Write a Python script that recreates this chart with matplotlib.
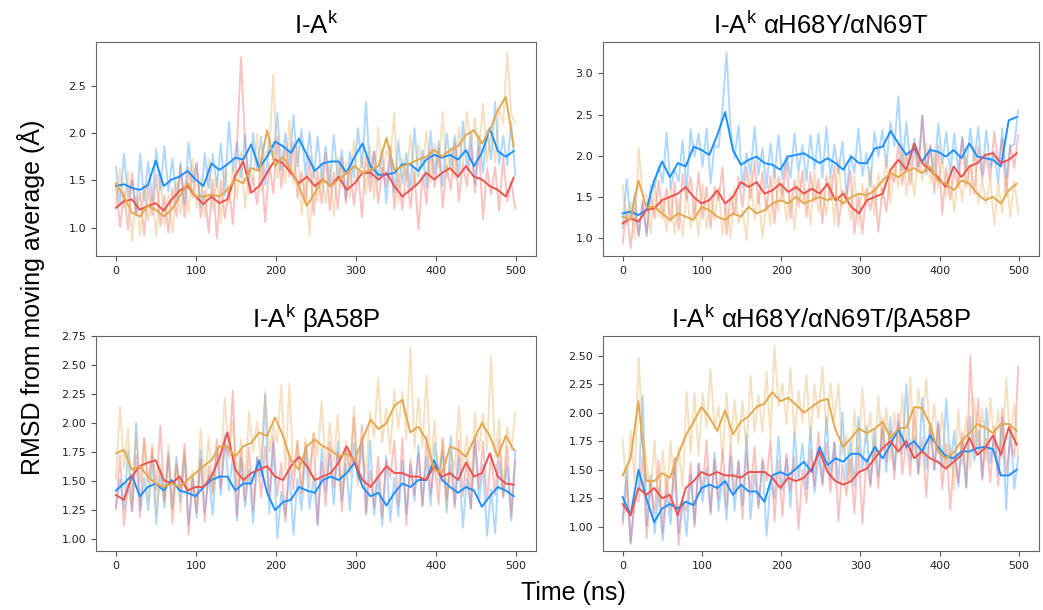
import numpy as np
import matplotlib
matplotlib.use("Agg")
import matplotlib.pyplot as plt
from matplotlib.ticker import MultipleLocator

# ====================================================
# data (RMSD in Angstrom)
# ====================================================
t_raw = np.linspace(0, 499, 100)   # raw frames, every ~5 ns
t_avg = np.linspace(0, 497, 51)    # smoothed curve, every ~10 ns

titles = [r"I-A$^{\mathrm{k}}$", r"I-A$^{\mathrm{k}}$ αH68Y/αN69T",
          r"I-A$^{\mathrm{k}}$ βA58P", r"I-A$^{\mathrm{k}}$ αH68Y/αN69T/βA58P"]

# ---- panel 1 : I-Ak
p1_blue_raw = [1.64,1.23,1.78,1.32,1.50,1.13,1.78,1.28,1.70,1.28,1.83,1.40,1.86,1.38,1.73,1.28,1.69,1.25,1.90,1.48,
               1.69,1.22,1.79,1.42,1.78,1.43,1.89,1.34,2.12,1.59,1.90,1.53,1.98,1.45,2.00,1.61,1.96,1.45,1.95,1.73,
               2.21,1.61,2.00,1.65,2.19,1.65,2.04,1.56,2.01,1.53,1.96,1.52,1.86,1.43,1.98,1.50,1.82,1.30,1.80,1.53,
               2.05,1.64,2.33,1.53,1.81,1.49,1.82,1.26,1.74,1.37,1.92,1.47,1.79,1.39,2.05,1.54,1.82,1.42,2.02,1.57,
               1.91,1.44,2.00,1.64,1.97,1.53,2.12,1.61,2.00,1.46,1.97,1.58,2.03,1.72,2.33,1.67,1.97,1.66,2.11,1.56]
p1_red_raw = [1.45,1.01,1.38,0.98,1.58,1.16,1.37,0.92,1.45,1.13,1.56,1.02,1.34,0.95,1.42,1.12,1.65,1.11,1.64,1.32,
              1.67,1.11,1.39,0.95,1.51,0.89,1.50,1.10,1.42,1.04,1.85,2.80,1.90,1.36,1.53,1.25,1.72,1.06,1.68,1.36,
              1.96,1.42,1.86,1.54,1.90,1.32,1.59,1.27,1.76,1.14,1.60,1.26,1.79,1.19,1.58,1.20,1.74,1.26,1.66,1.24,
              1.59,1.11,1.80,1.38,1.80,1.26,1.63,1.43,1.86,1.20,1.59,1.19,1.63,1.21,1.58,0.98,1.57,1.25,1.83,1.43,
              1.83,1.21,1.66,1.40,1.89,1.28,1.68,1.44,1.87,1.37,1.84,1.09,1.63,1.35,1.64,1.18,1.75,1.28,1.48,1.20]
p1_orange_raw = [1.23,1.63,1.21,1.59,0.86,1.34,0.92,1.46,1.07,1.35,0.91,1.57,1.02,1.34,0.95,1.49,1.15,1.47,1.15,1.73,
                 1.21,1.53,1.11,1.73,1.19,1.53,1.05,1.65,1.26,1.64,1.31,1.79,1.21,1.63,1.51,1.99,1.38,1.80,1.81,2.62,
                 1.53,1.73,1.47,2.13,1.46,1.86,1.14,1.56,0.92,1.65,1.27,1.59,1.26,1.66,1.12,1.74,1.43,1.69,1.32,1.93,
                 1.51,1.75,1.36,1.86,1.31,2.06,1.53,1.81,1.75,2.21,1.26,1.73,1.50,1.98,1.44,1.88,1.62,2.02,1.47,1.89,
                 1.64,2.22,1.53,1.85,1.52,2.06,1.70,2.22,1.86,2.16,1.77,2.31,1.69,2.01,1.69,2.25,2.10,2.85,2.20,2.10]
p1_blue_avg = [1.44,1.46,1.42,1.40,1.45,1.71,1.44,1.51,1.54,1.60,1.51,1.44,1.68,1.61,1.67,1.74,1.72,1.88,1.63,1.75,
               1.91,1.86,1.79,1.94,1.77,1.60,1.68,1.70,1.70,1.58,1.75,1.89,1.65,1.56,1.56,1.58,1.67,1.67,1.60,1.72,
               1.77,1.74,1.77,1.72,1.82,1.65,1.79,2.05,1.81,1.75,1.81]
p1_red_avg = [1.21,1.28,1.30,1.19,1.23,1.26,1.18,1.30,1.39,1.44,1.33,1.25,1.33,1.26,1.30,1.55,1.70,1.37,1.44,1.58,
              1.72,1.68,1.58,1.47,1.54,1.44,1.51,1.44,1.54,1.40,1.47,1.58,1.58,1.51,1.58,1.44,1.33,1.40,1.47,1.58,
              1.51,1.58,1.63,1.54,1.65,1.54,1.51,1.44,1.40,1.33,1.53]
p1_orange_avg = [1.47,1.33,1.16,1.12,1.23,1.19,1.12,1.19,1.33,1.47,1.33,1.33,1.35,1.33,1.40,1.51,1.47,1.63,1.60,2.03,
                 1.65,1.75,1.61,1.44,1.23,1.37,1.51,1.44,1.51,1.58,1.65,1.58,1.61,1.65,1.95,1.61,1.65,1.68,1.72,1.75,
                 1.82,1.75,1.82,1.86,1.98,2.03,1.89,2.03,2.24,2.38,1.86]

# ---- panel 2 : I-Ak aH68Y/aN69T
p2_blue_raw = [1.12,1.72,1.22,1.54,1.03,1.43,1.02,1.64,1.62,1.88,1.67,2.28,1.60,1.84,1.69,2.19,1.57,2.32,1.99,2.27,
               1.87,2.33,1.66,2.13,2.10,2.58,3.25,2.30,1.97,2.37,1.61,2.03,1.77,2.35,1.77,2.09,1.61,2.15,1.73,2.25,
               1.71,2.01,1.73,2.27,1.81,2.13,1.69,2.25,1.83,2.27,1.73,2.35,1.73,2.13,1.79,2.17,1.53,2.01,1.79,2.33,
               1.75,2.03,1.63,2.29,1.99,2.31,1.87,2.41,2.12,2.72,1.83,2.41,1.89,2.21,1.87,2.49,1.77,2.11,1.79,2.39,
               1.91,2.29,1.79,2.27,1.81,2.23,1.85,2.33,1.93,2.35,1.77,2.31,1.85,2.05,1.67,2.33,1.72,2.12,2.13,2.55]
p2_red_raw = [0.94,1.34,0.88,1.36,1.02,1.46,1.06,1.54,1.24,1.70,1.24,1.60,1.20,1.68,1.10,1.78,1.46,1.74,1.24,1.80,
              1.24,1.62,1.12,1.62,1.46,1.86,1.04,1.52,1.28,1.74,1.38,1.86,1.48,1.94,1.42,1.80,1.34,1.76,1.18,1.74,
              1.48,1.94,1.24,1.70,1.38,1.82,1.26,1.80,1.44,1.72,1.18,1.76,1.46,1.88,1.14,1.58,1.46,1.82,1.05,1.53,
              1.05,1.60,1.34,1.64,1.08,1.60,1.32,1.79,1.68,2.15,1.65,2.03,1.65,2.09,1.80,2.48,1.81,2.13,1.55,2.13,
              1.29,1.86,1.46,1.82,1.61,2.22,1.62,1.89,1.54,2.11,1.71,2.01,1.71,2.29,1.89,2.21,1.51,2.13,1.85,2.25]
p2_orange_raw = [1.64,1.16,1.44,0.98,2.10,1.52,1.52,1.06,1.64,1.26,1.50,1.08,1.62,1.06,1.48,1.02,1.58,1.12,1.46,1.02,
                 1.66,1.12,1.50,1.22,1.62,1.04,1.42,1.00,1.62,1.18,1.34,0.98,1.76,1.23,1.55,1.00,1.46,1.16,1.84,1.32,
                 1.68,1.21,1.57,1.10,1.80,1.42,1.60,1.16,1.81,1.32,1.60,1.28,1.74,1.16,1.95,1.38,1.58,1.22,1.76,1.15,
                 1.66,1.39,1.85,1.28,1.78,1.48,2.00,1.42,1.93,1.61,2.14,1.52,1.91,1.51,2.09,1.69,2.15,1.67,2.05,1.61,
                 1.98,1.50,1.78,1.32,1.80,1.44,2.00,1.52,2.10,1.42,1.70,1.42,1.72,1.16,1.68,1.30,1.76,1.26,1.70,1.30]
p2_blue_avg = [1.30,1.32,1.28,1.34,1.70,1.93,1.74,1.91,1.87,2.11,2.07,2.01,2.25,2.53,2.07,1.89,1.95,1.99,1.91,1.89,
               1.83,1.99,2.01,2.03,1.97,1.91,1.97,1.91,1.83,1.99,1.91,1.91,2.09,2.11,2.30,2.15,2.01,2.09,1.93,2.07,
               2.05,1.99,2.07,1.97,2.15,1.99,1.97,1.95,1.87,2.43,2.47]
p2_red_avg = [1.18,1.24,1.20,1.34,1.36,1.46,1.50,1.54,1.62,1.50,1.42,1.46,1.58,1.42,1.50,1.68,1.62,1.68,1.54,1.58,
              1.66,1.56,1.62,1.54,1.60,1.54,1.66,1.46,1.54,1.38,1.30,1.46,1.50,1.54,1.83,1.95,1.83,2.15,1.91,1.83,
              1.74,1.62,1.87,1.74,1.87,1.91,2.01,2.03,1.91,1.95,2.03]
p2_orange_avg = [1.26,1.22,1.70,1.38,1.38,1.30,1.22,1.30,1.26,1.22,1.38,1.34,1.26,1.22,1.30,1.26,1.38,1.30,1.34,1.42,
                 1.46,1.42,1.50,1.42,1.46,1.50,1.46,1.50,1.42,1.50,1.54,1.52,1.58,1.70,1.79,1.74,1.81,1.85,1.79,1.87,
                 1.70,1.66,1.58,1.70,1.66,1.54,1.46,1.50,1.42,1.58,1.66]

# ---- panel 3 : I-Ak bA58P
p3_blue_raw = [1.28,1.52,1.26,1.76,1.25,2.00,1.25,1.53,1.25,1.71,1.13,1.60,1.27,1.75,1.27,1.71,1.32,1.72,1.12,1.54,
               1.19,1.77,1.23,1.55,1.21,1.75,1.38,1.90,1.42,1.72,1.16,1.70,1.28,1.60,1.14,1.70,1.54,2.25,1.22,1.84,
               1.01,1.41,1.20,1.58,1.04,1.52,1.25,1.79,1.26,1.54,1.12,1.78,1.41,1.73,1.30,1.84,1.33,1.65,1.25,1.83,
               1.54,1.86,1.23,1.85,1.21,1.55,1.12,1.72,1.15,1.53,1.20,1.68,1.22,1.64,1.33,1.81,1.29,1.71,1.29,1.83,
               1.56,1.76,1.23,1.89,1.30,1.70,1.10,1.52,1.27,1.87,1.32,1.64,1.03,1.43,1.05,1.67,1.37,1.63,1.16,1.77]
p3_red_raw = [1.26,1.72,1.12,1.48,1.24,1.72,1.19,1.87,1.50,1.78,1.42,1.98,1.33,1.71,1.14,1.64,1.42,1.82,1.04,1.52,
              1.23,1.69,1.15,1.63,1.40,1.86,1.44,1.82,1.72,2.28,1.20,1.76,1.33,1.79,1.25,1.71,1.36,1.80,1.35,1.89,
              1.38,1.66,1.15,1.73,1.43,1.85,1.39,1.83,1.55,1.91,1.13,1.66,1.29,1.84,1.45,1.75,1.24,1.76,1.58,2.05,
              1.51,1.98,1.21,1.59,1.27,1.71,1.19,1.68,1.53,1.85,1.29,1.87,1.12,1.69,1.38,1.74,1.28,1.89,1.39,1.66,
              1.30,1.87,1.34,1.64,1.27,1.85,1.37,1.69,1.26,1.88,1.44,1.84,1.33,1.73,1.38,1.86,1.36,1.80,1.20,1.68]
p3_orange_raw = [1.52,2.14,1.61,1.95,1.32,1.92,1.49,1.87,1.34,1.82,1.22,1.64,1.33,1.81,1.26,1.68,1.23,1.77,1.39,1.59,
                 1.29,1.95,1.48,1.88,1.38,1.80,1.62,2.22,1.70,2.02,1.46,1.86,1.48,2.10,1.75,2.01,1.66,2.27,1.75,1.99,
                 1.83,2.33,1.59,2.34,1.56,1.84,1.40,1.86,1.45,1.92,1.71,2.19,1.56,2.00,1.67,2.07,1.43,1.85,1.56,2.14,
                 1.46,1.78,1.56,2.10,1.87,2.39,1.83,2.13,1.74,2.28,1.95,2.27,1.86,2.65,1.78,2.22,1.79,2.41,1.62,2.02,
                 1.48,1.86,1.27,1.75,1.60,2.14,1.61,1.89,1.43,2.09,1.76,2.08,1.76,2.58,1.71,2.03,1.39,1.97,1.77,2.09]
p3_blue_avg = [1.42,1.48,1.55,1.37,1.45,1.48,1.42,1.51,1.42,1.40,1.37,1.45,1.51,1.54,1.54,1.42,1.48,1.48,1.68,1.40,
               1.25,1.32,1.34,1.45,1.42,1.40,1.51,1.54,1.51,1.57,1.66,1.45,1.37,1.40,1.29,1.40,1.48,1.45,1.51,1.51,
               1.68,1.51,1.45,1.40,1.45,1.42,1.28,1.37,1.45,1.42,1.37]
p3_red_avg = [1.38,1.34,1.54,1.63,1.66,1.68,1.51,1.48,1.54,1.42,1.45,1.45,1.54,1.70,1.92,1.60,1.51,1.57,1.60,1.63,
              1.54,1.51,1.63,1.71,1.63,1.51,1.54,1.57,1.66,1.80,1.66,1.51,1.45,1.54,1.63,1.57,1.57,1.54,1.54,1.51,
              1.63,1.54,1.57,1.51,1.66,1.54,1.57,1.74,1.54,1.48,1.47]
p3_orange_avg = [1.74,1.77,1.60,1.63,1.54,1.48,1.45,1.48,1.45,1.51,1.57,1.63,1.68,1.80,1.80,1.71,1.80,1.83,1.92,1.89,
                 2.05,1.89,1.68,1.60,1.80,1.86,1.80,1.77,1.71,1.74,1.68,1.86,2.03,1.95,2.00,2.15,2.20,1.92,1.97,1.86,
                 1.60,1.57,1.80,1.77,1.71,1.86,2.00,1.89,1.71,1.89,1.77]

# ---- panel 4 : I-Ak aH68Y/aN69T/bA58P
p4_blue_raw = [1.06,1.52,0.86,1.22,1.35,2.15,1.01,1.45,0.94,1.34,0.88,1.30,1.02,1.60,0.94,1.26,0.92,1.46,1.03,1.55,
               1.22,1.52,1.11,1.65,1.14,1.46,1.06,1.62,1.14,1.58,1.19,1.81,1.07,1.47,1.19,1.57,0.92,1.40,1.25,1.79,
               1.32,1.60,1.17,1.83,1.41,1.73,1.33,1.87,1.30,1.62,1.38,1.96,1.42,1.74,1.38,2.00,1.41,1.75,1.36,1.96,
               1.50,1.88,1.37,1.85,1.44,1.86,1.48,1.96,1.50,1.92,1.64,2.25,1.58,1.78,1.47,2.13,1.51,1.91,1.50,1.92,
               1.52,2.12,1.52,1.84,1.35,1.75,1.34,1.96,1.58,1.84,1.43,2.04,1.56,1.80,1.46,1.96,1.15,1.90,1.33,1.61]
p4_red_raw = [1.02,1.40,0.85,1.26,1.22,1.62,0.90,1.38,1.12,1.58,0.95,1.43,1.14,1.60,0.84,1.22,1.14,1.56,1.00,1.56,
              1.30,1.76,1.13,1.59,1.24,1.68,1.17,1.71,1.29,1.57,1.07,1.65,1.28,1.70,1.16,1.60,1.40,1.76,1.05,1.58,
              1.09,1.64,1.31,1.61,0.98,1.50,1.21,1.68,1.36,1.83,1.36,1.74,1.30,1.74,1.05,1.54,1.27,1.59,1.12,1.70,
              1.03,1.60,1.35,1.71,1.34,1.95,1.57,1.84,1.42,1.99,1.46,1.76,1.45,2.03,1.46,1.78,1.26,1.88,1.50,1.90,
              1.33,1.73,1.15,1.63,1.39,1.83,1.35,2.50,1.66,2.12,1.41,1.77,1.39,1.87,1.36,2.04,1.47,1.75,1.61,2.40]
p4_orange_raw = [1.77,1.31,1.84,1.40,2.48,1.84,1.56,1.28,1.76,1.18,1.67,1.25,1.75,1.31,1.70,1.34,2.18,1.65,2.17,1.62,
                 2.17,1.87,2.38,1.86,2.06,1.59,2.17,1.70,2.11,1.73,2.10,1.66,2.32,1.83,2.15,1.83,2.36,1.78,2.58,2.06,
                 2.26,1.90,2.39,1.78,2.19,1.92,2.33,1.76,2.25,1.95,2.40,1.82,2.26,1.94,2.25,1.63,1.80,1.40,2.02,1.62,
                 2.22,1.74,2.00,1.56,2.14,1.66,2.04,1.58,2.00,1.64,2.16,1.68,2.31,1.63,2.21,1.93,2.30,1.74,2.08,1.70,
                 2.00,1.50,1.72,1.32,2.03,1.55,1.97,1.51,2.12,1.64,2.04,1.58,2.13,1.75,2.02,1.60,2.30,1.74,2.08,1.62]
p4_blue_avg = [1.26,1.10,1.50,1.25,1.04,1.16,1.20,1.16,1.22,1.19,1.34,1.37,1.34,1.40,1.28,1.37,1.31,1.31,1.22,1.45,
               1.48,1.45,1.51,1.57,1.48,1.70,1.54,1.60,1.57,1.64,1.64,1.57,1.70,1.60,1.72,1.86,1.70,1.75,1.66,1.80,
               1.70,1.62,1.60,1.66,1.66,1.69,1.70,1.68,1.45,1.45,1.50]
p4_red_avg = [1.20,1.10,1.34,1.28,1.34,1.25,1.28,1.10,1.34,1.40,1.48,1.45,1.48,1.45,1.45,1.43,1.48,1.48,1.48,1.43,
              1.34,1.43,1.40,1.43,1.51,1.66,1.48,1.40,1.37,1.40,1.48,1.51,1.60,1.69,1.75,1.66,1.75,1.60,1.66,1.60,
              1.57,1.51,1.57,1.63,1.78,1.63,1.69,1.80,1.63,1.87,1.72]
p4_orange_avg = [1.45,1.60,2.10,1.40,1.40,1.47,1.43,1.62,1.80,1.92,2.05,1.96,1.84,2.02,1.81,1.92,1.97,2.05,2.08,2.18,
                 2.10,2.13,2.07,2.00,2.05,2.10,2.12,1.85,1.70,1.78,1.86,1.82,1.86,1.92,1.78,1.86,1.87,2.05,2.04,1.90,
                 1.66,1.60,1.65,1.75,1.82,1.90,1.87,1.82,1.90,1.90,1.84]

# ====================================================
# style
# ====================================================
plt.rcParams['mathtext.fontset'] = 'custom'
plt.rcParams['mathtext.rm'] = 'Liberation Sans'
plt.rcParams['mathtext.it'] = 'Liberation Sans:italic'

BLUE = '#1E90FF'
RED = '#EF5350'
ORANGE = '#E3A94F'

panels = [
    (p1_blue_raw, p1_red_raw, p1_orange_raw, p1_blue_avg, p1_red_avg, p1_orange_avg, (0.70, 2.96), 0.5),
    (p2_blue_raw, p2_red_raw, p2_orange_raw, p2_blue_avg, p2_red_avg, p2_orange_avg, (0.78, 3.38), 0.5),
    (p3_blue_raw, p3_red_raw, p3_orange_raw, p3_blue_avg, p3_red_avg, p3_orange_avg, (0.90, 2.75), 0.25),
    (p4_blue_raw, p4_red_raw, p4_orange_raw, p4_blue_avg, p4_red_avg, p4_orange_avg, (0.79, 2.67), 0.25),
]
boxes = [[0.092, 0.580, 0.422, 0.351], [0.578, 0.580, 0.418, 0.351],
         [0.092, 0.097, 0.422, 0.352], [0.578, 0.097, 0.418, 0.352]]

fig = plt.figure(figsize=(10.43, 6.10), dpi=100)

for box, title, (b_raw, r_raw, o_raw, b_avg, r_avg, o_avg, ylim, step) in zip(boxes, titles, panels):
    ax = fig.add_axes(box)
    # raw traces (faded)
    ax.plot(t_raw, b_raw, color=BLUE, alpha=0.35, lw=1.4)
    ax.plot(t_raw, r_raw, color=RED, alpha=0.35, lw=1.4)
    ax.plot(t_raw, o_raw, color=ORANGE, alpha=0.35, lw=1.4)
    # moving averages
    ax.plot(t_avg, b_avg, color=BLUE, lw=1.4)
    ax.plot(t_avg, r_avg, color=RED, lw=1.4)
    ax.plot(t_avg, o_avg, color=ORANGE, lw=1.4)

    ax.set_xlim(-25, 525)
    ax.set_ylim(*ylim)
    ax.xaxis.set_major_locator(MultipleLocator(100))
    ax.yaxis.set_major_locator(MultipleLocator(step))
    ax.tick_params(labelsize=8, color='#555555', length=3.5, labelcolor='#222222')
    for s in ax.spines.values():
        s.set_color('#666666')
    ax.set_title(title, fontsize=18.5, family='Liberation Sans', pad=6)

fig.text(0.030, 0.513, u"RMSD from moving average (\u00c5)", rotation=90, ha='center', va='center',
         fontsize=18, family='Liberation Sans')
fig.text(0.550, 0.028, "Time (ns)", ha='center', va='center', fontsize=18, family='Liberation Sans')

fig.savefig("out.png", dpi=100)
